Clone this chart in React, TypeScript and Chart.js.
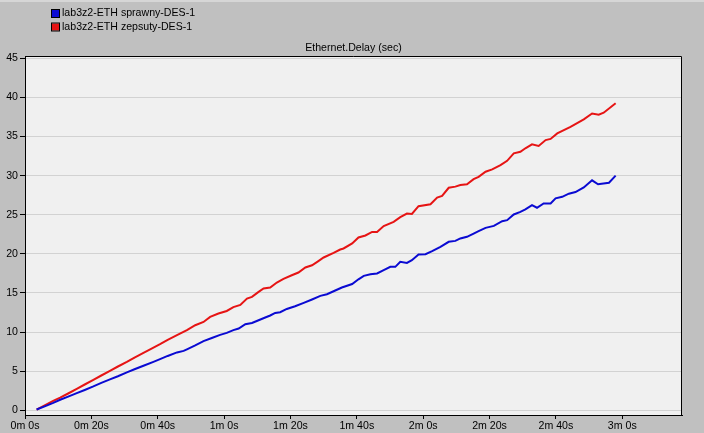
import React, { useEffect, useRef } from "react";
import { Chart, registerables } from "chart.js";

Chart.register(...registerables);

const seriesNames = ["lab3z2-ETH sprawny-DES-1", "lab3z2-ETH zepsuty-DES-1"];
const seriesColors = ["#0a0ad2", "#e61414"];
const chartTitle = "Ethernet.Delay (sec)";

const xTickValues = [0, 20, 40, 60, 80, 100, 120, 140, 160, 180];
const yTickValues = [0, 5, 10, 15, 20, 25, 30, 35, 40, 45];

// sprawny (blue): time [s], delay [s]
const sprawnyT = [3.5, 6.5, 8.5, 10.6, 13, 15.6, 18, 20.6, 23, 25.6, 28, 30.7, 33, 35.7, 38.7, 40.7, 43, 45.8, 47.8, 48.8, 51.3, 53.8, 56.3, 58.8, 60.8, 62.8, 64.4, 66.4, 68.4, 70.4, 72.4, 73.9, 75.4, 76.9, 78.9, 81.4, 84.0, 86.5, 89.0, 91.0, 93.5, 95.5, 98.6, 100.5, 102.1, 104.1, 106.1, 108.1, 110.1, 111.6, 113.1, 115.1, 116.6, 118.6, 120.7, 122.7, 125.2, 127.7, 129.7, 131.2, 133.2, 135.2, 136.7, 138.8, 141.3, 143.8, 145.3, 147.3, 149.3, 150.8, 152.8, 154.3, 156.3, 158.4, 159.9, 161.9, 163.9, 165.9, 168.4, 170.9, 172.7, 176, 178];
const sprawnyV = [0.1, 0.6, 0.95, 1.35, 1.75, 2.2, 2.6, 3.05, 3.5, 3.95, 4.35, 4.85, 5.25, 5.7, 6.2, 6.55, 6.95, 7.4, 7.6, 7.8, 8.3, 8.85, 9.25, 9.65, 9.9, 10.25, 10.45, 11.0, 11.17, 11.52, 11.86, 12.12, 12.45, 12.54, 12.96, 13.3, 13.73, 14.17, 14.63, 14.84, 15.32, 15.7, 16.15, 16.75, 17.19, 17.4, 17.49, 17.91, 18.34, 18.34, 18.98, 18.85, 19.19, 19.92, 19.96, 20.35, 20.9, 21.54, 21.66, 21.97, 22.18, 22.6, 22.9, 23.33, 23.58, 24.18, 24.31, 25.04, 25.37, 25.68, 26.23, 25.9, 26.45, 26.45, 27.1, 27.3, 27.7, 27.9, 28.5, 29.4, 28.9, 29.1, 30.0];

// zepsuty (red): time [s], delay [s]
const zepsutyT = [3.5, 6.5, 8.5, 10.6, 13, 15.6, 18, 20.6, 23, 25.6, 28, 30.7, 33, 35.7, 38, 40.7, 43, 45.8, 48.8, 51.3, 53.8, 55.8, 58.3, 60.8, 62.8, 64.9, 66.9, 68.4, 70.4, 71.9, 73.9, 75.9, 77.9, 80.4, 82.4, 84.5, 86.5, 88.3, 90.0, 93.0, 95.0, 96.0, 98.6, 100.5, 102.6, 104.6, 106.1, 108.1, 111.1, 113.1, 115.1, 116.6, 118.6, 122.2, 124.2, 125.7, 127.7, 129.7, 131.2, 133.2, 135.2, 136.7, 138.8, 140.8, 143.3, 145.3, 147.3, 149.3, 150.8, 152.8, 154.8, 156.9, 158.4, 160.4, 164.4, 168.4, 170.9, 172.9, 174.4, 178];
const zepsutyV = [0.1, 0.75, 1.2, 1.62, 2.15, 2.75, 3.3, 3.9, 4.45, 5.05, 5.6, 6.18, 6.75, 7.35, 7.85, 8.45, 9.0, 9.6, 10.24, 10.88, 11.3, 11.94, 12.37, 12.7, 13.2, 13.47, 14.29, 14.5, 15.14, 15.57, 15.7, 16.34, 16.8, 17.27, 17.62, 18.26, 18.55, 19.05, 19.54, 20.13, 20.56, 20.69, 21.33, 22.1, 22.35, 22.8, 22.8, 23.55, 24.1, 24.7, 25.15, 25.1, 26.1, 26.35, 27.2, 27.4, 28.45, 28.6, 28.8, 28.9, 29.55, 29.85, 30.5, 30.8, 31.35, 31.9, 32.85, 33.05, 33.5, 34.0, 33.8, 34.55, 34.7, 35.4, 36.25, 37.2, 37.95, 37.8, 38.05, 39.25];

const FONT = "'Liberation Sans', Arial, sans-serif";

function fmtTime(v: number): string {
  const m = Math.floor(v / 60);
  const s = Math.round(v - m * 60);
  return `${m}m ${s}s`;
}

const framePlugin = {
  id: "framePlugin",
  beforeDraw(chart: any) {
    const { ctx, chartArea } = chart;
    ctx.save();
    ctx.fillStyle = "#f0f0f0";
    ctx.fillRect(chartArea.left, chartArea.top, chartArea.right - chartArea.left, chartArea.bottom - chartArea.top);
    ctx.restore();
  },
  afterDraw(chart: any) {
    const { ctx, chartArea } = chart;
    ctx.save();
    ctx.strokeStyle = "#000";
    ctx.lineWidth = 1;
    ctx.beginPath();
    ctx.moveTo(chartArea.left, chartArea.top + 0.5);
    ctx.lineTo(chartArea.right - 0.5, chartArea.top + 0.5);
    ctx.lineTo(chartArea.right - 0.5, chartArea.bottom);
    ctx.stroke();

    // title
    ctx.font = `10.6px ${FONT}`;
    ctx.fillStyle = "#000";
    ctx.textAlign = "center";
    ctx.textBaseline = "middle";
    ctx.fillText(chartTitle, (chartArea.left + chartArea.right) / 2, 48);

    // legend
    ctx.textAlign = "left";
    seriesNames.forEach((name, i) => {
      const y = 13.5 + i * 13.5;
      ctx.fillStyle = seriesColors[i];
      ctx.fillRect(52, y - 3.5, 7, 7);
      ctx.strokeStyle = "#000";
      ctx.strokeRect(51.5, y - 4, 8, 8);
      ctx.fillStyle = "#000";
      ctx.fillText(name, 62, y);
    });
    ctx.restore();
  },
};

export default function App() {
  const ref = useRef<HTMLCanvasElement | null>(null);

  useEffect(() => {
    if (!ref.current) return;
    const chart = new Chart(ref.current, {
      type: "line",
      data: {
        datasets: [
          {
            label: seriesNames[0],
            data: sprawnyT.map((t, i) => ({ x: t, y: sprawnyV[i] })),
            borderColor: seriesColors[0],
            borderWidth: 2,
            pointRadius: 0,
            tension: 0,
          },
          {
            label: seriesNames[1],
            data: zepsutyT.map((t, i) => ({ x: t, y: zepsutyV[i] })),
            borderColor: seriesColors[1],
            borderWidth: 2,
            pointRadius: 0,
            tension: 0,
          },
        ],
      },
      options: {
        animation: false,
        responsive: false,
        devicePixelRatio: 1,
        layout: { padding: { top: 56, right: 22, bottom: 0, left: 0 } },
        plugins: {
          legend: { display: false },
          title: { display: false },
          tooltip: { enabled: false },
        },
        scales: {
          x: {
            type: "linear",
            min: 0,
            max: 198,
            afterBuildTicks: (scale: any) => {
              scale.ticks = xTickValues.map((v) => ({ value: v }));
            },
            afterFit: (scale: any) => {
              scale.height = 18;
            },
            grid: {
              drawOnChartArea: false,
              tickLength: 4,
              tickColor: "#000",
            },
            border: { color: "#000", width: 1 },
            ticks: {
              autoSkip: false,
              maxRotation: 0,
              padding: 1,
              color: "#000",
              font: { family: FONT, size: 10.6 },
              callback: (v: any) => fmtTime(Number(v)),
            },
          },
          y: {
            type: "linear",
            min: -0.6,
            max: 45.3,
            afterBuildTicks: (scale: any) => {
              scale.ticks = yTickValues.map((v) => ({ value: v }));
            },
            afterFit: (scale: any) => {
              scale.width = 25;
            },
            grid: {
              color: "#d2d2d2",
              tickLength: 5,
              tickColor: "#000",
            },
            border: { color: "#000", width: 1 },
            ticks: {
              autoSkip: false,
              padding: 2,
              color: "#000",
              font: { family: FONT, size: 10.6 },
            },
          },
        },
      },
      plugins: [framePlugin],
    });
    return () => chart.destroy();
  }, []);

  return (
    <div
      style={{
        position: "fixed",
        left: 0,
        top: 0,
        width: 704,
        height: 433,
        background: "#c0c0c0",
        overflow: "hidden",
      }}
    >
      <div style={{ position: "absolute", left: 0, top: 0, width: 704, height: 2, background: "#d6d6d6" }} />
      <canvas ref={ref} width={704} height={433} style={{ position: "absolute", left: 0, top: 0, width: 704, height: 433 }} />
    </div>
  );
}
